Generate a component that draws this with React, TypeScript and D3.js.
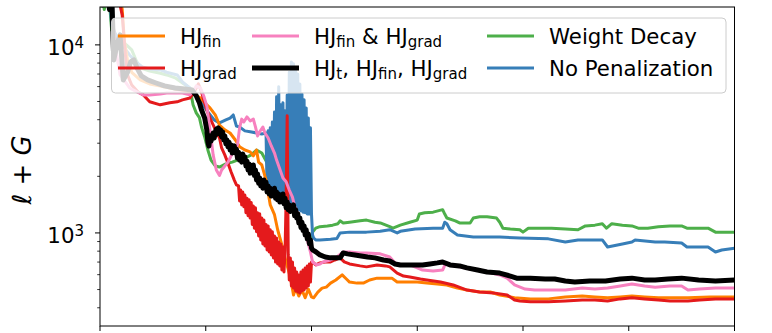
import React, { useEffect, useRef } from "react"
import * as d3 from "d3"

type Pt = [number, number]

// [step, loss]
const hjFin: Pt[] = [
  [0, 25000], [5, 19600], [9, 16300], [14, 22200], [18, 19600], [21, 15400], [23, 10600], [26, 8320],
  [30, 7150], [38, 6510], [47, 6200], [57, 6050], [66, 5900], [76, 5760], [85, 5620], [90, 5420],
  [95, 5220], [99, 4920], [104, 4620], [109, 4240], [113, 3750], [118, 3530], [123, 3400], [128, 3120],
  [132, 2870], [137, 2760], [142, 2700], [145, 2570], [148, 2760], [150, 2380], [153, 2300], [157, 1910],
  [161, 1410], [165, 1250], [168, 1040], [172, 863], [176, 701], [180, 583], [183, 468], [185, 509],
  [188, 462], [191, 497], [194, 452], [197, 503], [200, 457], [202, 452], [206, 485], [210, 509],
  [214, 515], [218, 541], [223, 562], [229, 598], [233, 569], [236, 548], [243, 541], [249, 541],
  [255, 562], [262, 575], [270, 575], [276, 575], [281, 548], [290, 548], [300, 548], [309, 541],
  [319, 535], [328, 529], [338, 509], [347, 497], [359, 485], [369, 485], [378, 468], [388, 457],
  [392, 452], [407, 446], [424, 446], [440, 457], [456, 462], [468, 457], [480, 452], [492, 457],
  [503, 462], [515, 457], [528, 452], [541, 452], [556, 452], [577, 457], [600, 457],
]

const hjGrad: Pt[] = [
  [0, 25000], [5, 20900], [9, 17300], [14, 23500], [18, 17300], [21, 14400], [24, 8840], [26, 6920],
  [30, 6120], [36, 5620], [41, 5420], [47, 4980], [57, 4800], [66, 4920], [73, 4980], [78, 5100],
  [85, 5220], [90, 5760], [93, 6200], [96, 5620], [98, 5100], [101, 4510], [104, 4080], [107, 3750],
  [110, 3450], [113, 3200], [115, 2830], [118, 2600], [121, 2350], [124, 2110], [127, 1910], [129, 1800],
  [131, 1780], [132, 1480], [133, 1690], [134, 1410], [135, 1650], [136, 1380], [137, 1590], [138, 1280],
  [139, 1530], [140, 1235], [141, 1500], [142, 1200], [143, 1450], [144, 1110], [145, 1390], [146, 1060],
  [147, 1360], [148, 1015], [149, 1280], [150, 964], [151, 1265], [152, 918], [153, 1200], [154, 874],
  [155, 1170], [156, 852], [157, 1110], [158, 812], [159, 1090], [160, 792], [161, 1040], [162, 764],
  [163, 1015], [164, 736], [165, 964], [166, 700], [167, 940], [168, 684], [169, 895], [170, 668],
  [171, 874], [172, 635], [173, 842], [174, 620], [175, 812], [176, 1500], [177, 4200], [178, 764],
  [179, 562], [180, 736], [181, 523], [182, 700], [183, 509], [184, 651], [185, 491], [186, 620],
  [187, 485], [188, 598], [189, 479], [190, 620], [191, 491], [192, 635], [193, 497], [194, 651],
  [195, 509], [196, 668], [197, 523], [198, 684], [199, 548], [200, 700], [201, 701],
  [204, 676], [208, 693], [213, 701], [218, 701], [222, 718], [227, 737], [231, 701], [236, 684],
  [246, 668], [252, 660], [262, 676], [270, 668], [274, 660], [281, 612], [287, 590], [293, 583],
  [303, 569], [309, 562], [322, 548], [334, 529], [347, 497], [359, 485], [372, 480], [385, 468],
  [392, 440], [397, 435], [407, 430], [424, 430], [440, 435], [456, 440], [468, 440], [480, 435],
  [492, 446], [503, 452], [515, 446], [528, 440], [539, 435], [556, 435], [567, 440], [582, 446],
  [600, 446],
]

const hjFinGrad: Pt[] = [
  [0, 25000], [4, 17300], [8, 22200], [11, 15400], [15, 9400], [19, 6920], [24, 6350], [28, 5900],
  [35, 5620], [41, 5420], [47, 5420], [57, 5480], [63, 5550], [71, 5550], [78, 5550], [85, 5420],
  [88, 5620], [91, 6050], [95, 5900], [98, 5360], [101, 4740], [104, 3530], [107, 2600], [110, 2160],
  [113, 2020], [115, 2160], [118, 2270], [121, 2380], [124, 2570], [127, 2760], [130, 2940], [132, 3620],
  [134, 4030], [136, 3890], [139, 4140], [142, 3940], [145, 4030], [147, 3660], [149, 3280], [151, 3450],
  [154, 3660], [156, 3400], [159, 3200], [162, 2900], [165, 2660], [167, 2440], [170, 2190], [173, 1960],
  [176, 1870], [179, 1690], [182, 1550], [184, 1390], [187, 1270], [190, 1140], [193, 1020], [196, 918],
  [199, 792], [201, 701], [205, 676], [208, 684], [211, 701], [218, 718], [224, 745], [230, 792],
  [236, 792], [246, 783], [252, 783], [265, 774], [274, 745], [279, 693], [286, 676], [293, 676],
  [300, 652], [305, 635], [315, 627], [324, 635], [327, 693], [331, 676], [340, 660], [350, 643],
  [366, 620], [378, 598], [385, 575], [392, 529], [402, 503], [411, 497], [426, 497], [440, 497],
  [456, 509], [468, 503], [480, 509], [492, 522], [503, 535], [515, 522], [525, 515], [539, 522],
  [550, 522], [556, 497], [567, 503], [582, 509], [600, 509],
]

const hjAll: Pt[] = [
  [0, 28000], [2, 16300], [4, 25000], [7, 18400], [9, 15400], [11, 19600], [13, 8320], [16, 10000],
  [19, 11300], [22, 6510], [26, 7150], [29, 8120], [32, 8320], [35, 7540], [39, 6840], [45, 6510],
  [53, 6270], [61, 6050], [71, 5900], [80, 5830], [87, 5760], [91, 5360], [94, 4920], [96, 4510],
  [99, 4080], [101, 3530], [102, 3040], [103, 2900], [104, 3280], [105, 3080], [106, 3240], [107, 3400],
  [108, 3200], [109, 3440], [110, 3570], [111, 3360], [112, 3620], [113, 3400], [114, 3530], [115, 3240],
  [116, 3440], [117, 3120], [118, 3280], [119, 2980], [120, 3120], [121, 2870], [122, 3040], [123, 2760],
  [124, 2940], [125, 2660], [126, 2830], [127, 2900], [128, 2660], [129, 2790], [130, 2500], [131, 2690],
  [132, 2440], [133, 2600], [134, 2380], [135, 2630], [136, 2440], [137, 2540], [138, 2270], [139, 2410],
  [140, 2160], [141, 2330], [142, 2080], [143, 2270], [144, 2160], [145, 2300], [146, 2020], [147, 2160],
  [148, 1910], [149, 2060], [150, 1840], [151, 1960], [152, 1780], [153, 1890], [154, 1730], [155, 1910],
  [156, 1780], [157, 1860], [158, 1650], [159, 1780], [160, 1610], [161, 1730], [162, 1570], [163, 1690],
  [164, 1630], [165, 1730], [166, 1530], [167, 1650], [168, 1500], [169, 1610], [170, 1460], [171, 1570],
  [172, 1520], [173, 1610], [174, 1430], [175, 1530], [176, 1360], [177, 1460], [178, 1330], [179, 1410],
  [180, 1300], [181, 1390], [182, 1330], [183, 1410], [184, 1235], [185, 1330], [186, 1200], [187, 1265],
  [188, 1130], [189, 1200], [190, 1070], [191, 1140], [192, 1030], [193, 1090], [194, 976], [195, 1040],
  [196, 930], [197, 988], [198, 875], [199, 918], [200, 832], [201, 812],
  [204, 794], [208, 764],
  [213, 745], [218, 737], [227, 737], [230, 783], [234, 774], [241, 764], [253, 745], [260, 737],
  [268, 718], [274, 709], [279, 684], [284, 676], [293, 676], [305, 676], [312, 684], [319, 693],
  [324, 701], [331, 676], [340, 668], [347, 652], [357, 635], [366, 620], [378, 612], [388, 590],
  [394, 575], [407, 575], [421, 569], [430, 569], [440, 555], [449, 548], [463, 555], [478, 555],
  [492, 569], [503, 575], [515, 562], [525, 562], [537, 569], [550, 575], [566, 562], [582, 555],
  [600, 562],
]

const weightDecay: Pt[] = [
  [0, 25000], [4, 15400], [8, 19600], [11, 12000], [19, 10600], [25, 10000], [30, 9400], [34, 8320],
  [38, 7540], [47, 7260], [57, 7060], [63, 6920], [71, 6680], [78, 6270], [85, 5900], [88, 4800],
  [91, 4350], [94, 4100], [96, 3660], [99, 3240], [102, 2760], [105, 2440], [109, 2270], [113, 2240],
  [119, 2330], [125, 2380], [130, 2440], [137, 2500], [143, 2600], [148, 2760], [153, 2660], [159, 2300],
  [165, 1960], [170, 1690], [177, 1500], [183, 1330], [189, 1140], [195, 1000], [199, 918], [201, 1010],
  [204, 1060], [208, 1080], [215, 1090], [220, 1100], [225, 1120], [227, 1160], [230, 1130], [236, 1140],
  [246, 1160], [252, 1170], [260, 1140], [265, 1130], [274, 1080], [277, 1060], [284, 1100], [293, 1140],
  [300, 1170], [302, 1260], [307, 1280], [315, 1290], [324, 1330], [326, 1260], [328, 1200], [336, 1160],
  [340, 1130], [350, 1130], [353, 1200], [359, 1220], [366, 1220], [375, 1200], [378, 1140], [381, 1060],
  [388, 1050], [397, 1040], [400, 1010], [405, 1060], [416, 1060], [427, 1060], [440, 1050], [452, 1040],
  [459, 1090], [468, 1100], [475, 1120], [479, 1060], [484, 1120], [494, 1100], [503, 1090], [509, 1060],
  [518, 1060], [528, 1080], [539, 1090], [550, 1090], [555, 1060], [567, 1060], [575, 1060], [582, 1010],
  [600, 1010],
]

const noPenalty: Pt[] = [
  [0, 25000], [4, 16300], [8, 22200], [11, 12800], [17, 10600], [23, 9640], [28, 8840], [34, 8120],
  [40, 7640], [47, 7450], [57, 7360], [63, 7150], [73, 6920], [78, 6350], [85, 5900], [91, 5420],
  [96, 4920], [102, 4400], [108, 3990], [113, 3850], [119, 3990], [123, 4080], [126, 4240], [129, 3700],
  [132, 3660], [137, 3490], [142, 3450], [148, 3400], [153, 3360], [157, 3400],
  [158, 1690], [159, 3490], [160, 1670], [161, 3620], [162, 1630], [163, 3890], [164, 1590], [165, 4400],
  [166, 1570], [167, 5300], [168, 1550], [169, 5980], [170, 1530], [171, 4800], [172, 1510], [173, 4920],
  [174, 1500], [175, 4460], [176, 1460], [177, 5420], [178, 1440], [179, 7150], [180, 1410], [181, 8120],
  [182, 1390], [183, 7940], [184, 1380], [185, 7360], [186, 1340], [187, 7000], [188, 1330], [189, 6200],
  [190, 1310], [191, 5480], [192, 1290], [193, 5100], [194, 1280], [195, 4620], [196, 1260], [197, 4080],
  [198, 1260], [199, 3620], [200, 1260], [201, 976],
  [202, 940], [204, 918], [208, 918], [218, 926], [224, 935], [227, 1000], [236, 1010], [252, 1010],
  [265, 1020], [274, 1040], [281, 1000], [284, 1020], [298, 1050], [315, 1060], [324, 1060], [326, 1140],
  [328, 1120], [331, 1040], [338, 976], [353, 952], [362, 952], [378, 952], [397, 940], [424, 930],
  [440, 895], [452, 918], [463, 918], [475, 918], [480, 842], [494, 873], [503, 895], [506, 918],
  [525, 895], [534, 895], [550, 884], [555, 842], [575, 842], [582, 792], [588, 812], [600, 830],
]

const xTicks = [0, 100, 200, 300, 400, 500, 600]
const yMajor = [1000, 10000]
const yMinor = [400, 500, 600, 700, 800, 900, 2000, 3000, 4000, 5000, 6000, 7000, 8000, 9000]

// label parts: [text, isSubscript]
const legendLabels: [string, boolean][][] = [
  [["HJ", false], ["fin", true]],
  [["HJ", false], ["grad", true]],
  [["HJ", false], ["fin", true], [" & HJ", false], ["grad", true]],
  [["HJ", false], ["t", true], [", HJ", false], ["fin", true], [", HJ", false], ["grad", true]],
  [["Weight Decay", false]],
  [["No Penalization", false]],
]

const FONT = "'DejaVu Sans', sans-serif"

export default function App() {
  const ref = useRef<SVGSVGElement>(null)

  useEffect(() => {
    const width = 772
    const height = 333
    const margin = { top: 7, right: 37.5, bottom: 7, left: 100 }
    const svg = d3.select(ref.current)
    svg.selectAll("*").remove()

    const x = d3.scaleLinear().domain([0, 600]).range([margin.left, width - margin.right])
    const y = d3.scaleLog().domain([320, 15900]).range([height - margin.bottom, margin.top])

    svg.append("defs").append("clipPath").attr("id", "plot-clip")
      .append("rect")
      .attr("x", margin.left).attr("y", margin.top)
      .attr("width", width - margin.right - margin.left)
      .attr("height", height - margin.bottom - margin.top)

    const line = d3.line<Pt>()
      .x((d) => x(d[0]))
      .y((d) => y(d[1]))

    const series: { data: Pt[]; color: string; w: number }[] = [
      { data: weightDecay, color: "#4daf4a", w: 3 },
      { data: noPenalty, color: "#377eb8", w: 3 },
      { data: hjFin, color: "#ff7f00", w: 3 },
      { data: hjGrad, color: "#e41a1c", w: 3 },
      { data: hjFinGrad, color: "#f781bf", w: 3 },
      { data: hjAll, color: "#000000", w: 5 },
    ]

    const lines = svg.append("g").attr("clip-path", "url(#plot-clip)")
    series.forEach((s) => {
      lines.append("path")
        .datum(s.data)
        .attr("fill", "none")
        .attr("stroke", s.color)
        .attr("stroke-width", s.w)
        .attr("stroke-linejoin", "round")
        .attr("d", line)
    })

    // frame
    svg.append("rect")
      .attr("x", margin.left).attr("y", margin.top)
      .attr("width", width - margin.right - margin.left)
      .attr("height", height - margin.bottom - margin.top)
      .attr("fill", "none").attr("stroke", "#000").attr("stroke-width", 1)

    // x ticks (labels fall below the picture)
    svg.append("g").selectAll("line").data(xTicks).enter().append("line")
      .attr("x1", (d) => x(d)).attr("x2", (d) => x(d))
      .attr("y1", height - margin.bottom).attr("y2", height - margin.bottom + 5)
      .attr("stroke", "#000").attr("stroke-width", 1)

    // y ticks
    svg.append("g").selectAll("line").data(yMinor).enter().append("line")
      .attr("x1", margin.left - 2.8).attr("x2", margin.left)
      .attr("y1", (d) => y(d)).attr("y2", (d) => y(d))
      .attr("stroke", "#000").attr("stroke-width", 0.8)
    svg.append("g").selectAll("line").data(yMajor).enter().append("line")
      .attr("x1", margin.left - 5).attr("x2", margin.left)
      .attr("y1", (d) => y(d)).attr("y2", (d) => y(d))
      .attr("stroke", "#000").attr("stroke-width", 1)

    const yLabels = svg.append("g").selectAll("text").data(yMajor).enter().append("text")
      .attr("x", 84).attr("y", (d) => y(d) + 10)
      .attr("text-anchor", "end")
      .attr("font-family", FONT).attr("font-size", 21.3)
    yLabels.append("tspan").text("10")
    yLabels.append("tspan").attr("font-size", 15).attr("dy", -7)
      .text((d) => String(Math.round(Math.log10(d))))

    // y axis title
    const yt = svg.append("text")
      .attr("transform", "translate(31,170) rotate(-90)")
      .attr("text-anchor", "middle")
      .attr("font-family", FONT).attr("font-size", 26)
    yt.append("tspan").attr("font-style", "italic").text("ℓ")
    yt.append("tspan").text(" + ")
    yt.append("tspan").attr("font-style", "italic").text("G")

    // legend
    const lg = svg.append("g")
    lg.append("rect")
      .attr("x", 111.5).attr("y", 18).attr("width", 614.5).attr("height", 75).attr("rx", 4)
      .attr("fill", "#fff").attr("fill-opacity", 0.8)
      .attr("stroke", "#cccccc").attr("stroke-width", 1)
    const colX = [118, 252, 487]
    const rowY = [36, 68]
    const legendOrder = [2, 3, 4, 5, 0, 1]
    legendLabels.forEach((parts, i) => {
      const col = Math.floor(i / 2)
      const row = i % 2
      const s = series[legendOrder[i]]
      lg.append("line")
        .attr("x1", colX[col]).attr("x2", colX[col] + 47)
        .attr("y1", rowY[row]).attr("y2", rowY[row])
        .attr("stroke", s.color).attr("stroke-width", s.w)
      const t = lg.append("text")
        .attr("x", colX[col] + 62).attr("y", rowY[row] + 7.5)
        .attr("font-family", FONT).attr("font-size", 21.3)
      let shifted = false
      parts.forEach(([txt, sub]) => {
        const sp = t.append("tspan").text(txt)
        if (sub && !shifted) { sp.attr("dy", 3.5); shifted = true }
        if (!sub && shifted) { sp.attr("dy", -3.5); shifted = false }
        if (sub) sp.attr("font-size", 15)
      })
    })
  }, [])

  return (
    <svg
      ref={ref}
      width={772}
      height={333}
      style={{ position: "absolute", top: 0, left: 0, background: "#fff" }}
    />
  )
}
